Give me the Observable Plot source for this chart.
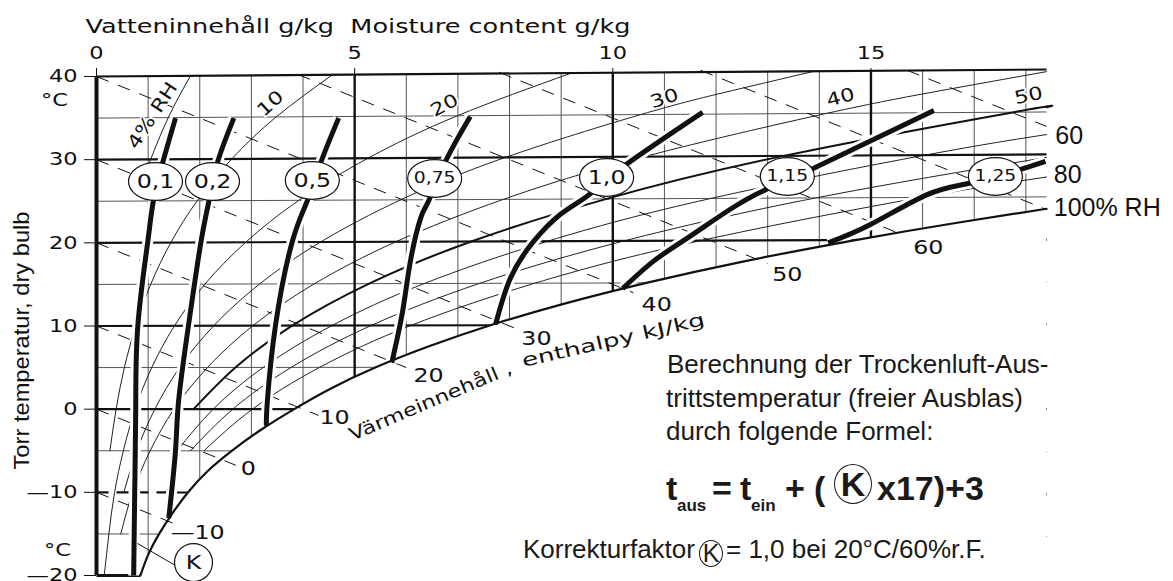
<!DOCTYPE html>
<html>
<head>
<meta charset="utf-8">
<script src="https://cdn.jsdelivr.net/npm/d3@7"></script>
<script src="https://cdn.jsdelivr.net/npm/@observablehq/plot@0.6"></script>
<style>
  html, body { margin: 0; padding: 0; background: #fff; }
  #wrap { position: relative; width: 1173px; height: 581px; overflow: hidden; background:#fff; }
  .note { position: absolute; white-space: nowrap; font-family: "Liberation Sans", Arial, sans-serif; color: #1a1a1a; line-height: 1; }
  .kc { position: absolute; border: 1.4px solid #1a1a1a; border-radius: 50%; box-sizing: border-box;
        display: flex; align-items: center; justify-content: center;
        font-family: "Liberation Sans", Arial, sans-serif; color: #1a1a1a; line-height: 1; }
</style>
</head>
<body>
<div id="wrap"></div>
<script>
// ---------------- values ----------------
const TILT = 0.00114;   // isotherms rise slightly towards the right
const X_MAX = 18.4;     // right edge of the diagram, g/kg

const moistureTicks = [0, 5, 10, 15];
const tempTicks = [-20, -10, 0, 10, 20, 30, 40];
const gridMoisture = [1,2,3,4,5,6,7,8,9,10,11,12,13,14,15,16,17,18];
const isotherms = [-20,-15,-10,-5,0,5,10,15,20,25,30,35,40];

// saturation curve, 100 % RH
const satT = [-20,-17.5,-15,-12.5,-10,-7.5,-5,-2.5,0,2.5,5,7.5,10,12.5,15,17.5,20,22,23.6];
const satX = [0.85,1.00,1.21,1.47,1.77,2.14,2.62,3.18,3.83,4.55,5.41,6.44,7.63,9.03,10.65,12.52,14.70,16.67,18.40];

// relative humidity curves
const rh4T  = [28,30,35,40];
const rh4X  = [0.93,1.05,1.39,1.82];
const rh10T = [-5,0,5,10,15,20,25,30,35,40];
const rh10X = [0.26,0.38,0.54,0.76,1.05,1.44,1.95,2.62,3.48,4.57];
const rh20T = [-20,-15,-10,-5,0,5,10,15,20,25,30,35,40];
const rh20X = [0.15,0.24,0.35,0.52,0.75,1.07,1.51,2.10,2.89,3.92,5.26,6.99,9.20];
const rh30T = [-10,-5,0,5,10,15,20,25,30,35,37.5,40];
const rh30X = [0.53,0.78,1.13,1.61,2.27,3.16,4.34,5.89,7.92,10.54,12.12,13.90];
const rh40T = [-15,-10,-5,0,5,10,15,20,25,30,35,37.5,39.75];
const rh40X = [0.47,0.70,1.04,1.50,2.15,3.03,4.22,5.80,7.88,10.61,14.14,16.26,18.40];
const rh50T = [0,5,10,15,20,25,30,35,35.55];
const rh50X = [1.88,2.69,3.79,5.28,7.26,9.88,13.31,17.77,18.40];
const rh60T = [-5,0,5,10,15,20,25,30,32.34];
const rh60X = [1.56,2.26,3.23,4.56,6.35,8.74,11.90,16.05,18.40];
const rh70T = [-5,0,5,10,15,20,25,29.65];
const rh70X = [1.82,2.64,3.77,5.32,7.42,10.22,13.93,18.40];
const rh80T = [-5,0,5,10,15,20,25,27.34];
const rh80X = [2.08,3.02,4.32,6.09,8.49,11.70,15.97,18.40];

// enthalpy lines (dashed), kJ/kg
const enthH      = [-10,0,10,20,30,40,50,60,70,80];
const enthStartX = [0,0,0,0,0,0,3.9,7.8,11.7,15.7];
const enthEndX   = [1.63,2.70,4.30,6.00,8.15,10.40,13.00,15.60,18.40,18.40];
const ENTH_DROP  = 2.5;  // °C per g/kg along an isenthalp
const enthLabels = ["—10","0","10","20","30","40","50","60"];
const enthLabelX = [1.96,2.94,4.61,6.43,8.52,10.85,13.38,16.11];
const enthLabelT = [-14.83,-7.13,-1.0,4.05,8.5,12.58,16.19,19.44];

// correction factor K curves
const k01X = [0.72,0.74,0.76,0.80,0.99,1.10,1.28,1.53];
const k01T = [-20,-10,0,10,20,25,29.6,35];
const k02X = [1.40,1.53,1.59,1.78,2.02,2.17,2.34,2.66];
const k02T = [-13.1,-5,1,10,20,24.8,29.6,35];
const k05X = [3.29,3.31,3.47,3.79,4.08,4.34,4.69];
const k05T = [-2,1,10.2,20.1,25,29.6,35];
const k075X = [5.72,5.93,6.08,6.28,6.43,6.76,7.24];
const k075T = [5.6,11.8,17.8,23,25,29.8,35.2];
const k10X = [7.73,8.02,8.47,9.0,9.52,10.21,11.74];
const k10T = [10.2,15.8,20.2,23.5,25.7,29.2,35.7];
const k115X = [10.19,10.79,11.45,12.29,12.93,13.9,16.22];
const k115T = [14.5,17.8,20.6,24.1,26.3,29.0,35.9];
const k125X = [14.17,14.99,16.09,16.93,17.93,18.38];
const k125T = [20.0,22.2,25.8,27.2,28.9,29.8];
const kNames  = ["0,1","0,2","0,5","0,75","1,0","1,15","1,25"];
const kLabelX = [1.143,2.247,4.18,6.55,9.88,13.38,17.41];
const kLabelT = [27.37,27.37,27.5,27.74,27.86,27.98,27.98];

// RH labels
const rhTopLabels = ["4% RH","10","20","30","40","50"];
const rhTopX      = [1.085,3.37,6.74,11.0,14.41,18.05];
const rhTopT      = [35.31,36.75,36.51,37.35,37.47,37.71];
const rhTopAngle  = [-57,-42,-28,-18,-15,-12];
const rhSideLabels = ["60","80","100% RH"];
const rhSideX      = [18.57,18.54,18.54];
const rhSideT      = [32.9,28.1,24.13];

const titleText = "Vatteninnehåll g/kg\u00a0 Moisture content g/kg";
const yTitle = "Torr temperatur, dry bulb";
// enthalpy caption, written in two pieces that follow the saturation curve
const enthTitle = ["Värmeinnehåll ,", "enthalpy kJ/kg"];
const enthTitleX = [6.47, 10.01];
const enthTitleT = [0.92, 8.26];
const enthTitleAngle = [-23, -13];
const enthTitleLen = [175, 187];

// text block on the right
const noteLines = ["Berechnung der Trockenluft-Aus-", "trittstemperatur (freier Ausblas)", "durch folgende Formel:"];
const noteLeft = [667, 666, 666];
const noteBase = [373, 407, 440];
const formulaText = ["t","aus","=","t","ein","+","(","x17)+3"];
const formulaLeft = [666,677,712,740,751,785,814,877];
const formulaBase = [500,511,500,500,511,500,500,500];
const formulaSize = [34,17,34,34,17,34,34,34];
const lastLine = ["Korrekturfaktor", "= 1,0 bei 20°C/60%r.F."];
const lastLeft = [523, 726];
const lastBase = 558;

// ---------------- build rows ----------------
const tilt = d => d.T * (1 + TILT * d.x);
const zipRows = (sets, key) => sets.flatMap(([id, xs, ts]) => xs.map((x, i) => ({[key]: id, x, T: ts[i]})));

const satRows = satX.map((x, i) => ({x, T: satT[i]}));
const rhRows = zipRows([[4,rh4X,rh4T],[10,rh10X,rh10T],[20,rh20X,rh20T],[30,rh30X,rh30T],[40,rh40X,rh40T],
                        [50,rh50X,rh50T],[60,rh60X,rh60T],[70,rh70X,rh70T],[80,rh80X,rh80T]], "rh");
const kRows = zipRows([["0,1",k01X,k01T],["0,2",k02X,k02T],["0,5",k05X,k05T],["0,75",k075X,k075T],
                       ["1,0",k10X,k10T],["1,15",k115X,k115T],["1,25",k125X,k125T]], "k");

const vLines = gridMoisture.map(v => ({x: v, y1: -21, y2: 40 * (1 + TILT * v), major: v % 5 === 0}));
const isoRows = isotherms.map(t => ({t, x1: 0, y1: t, x2: X_MAX, y2: t * (1 + TILT * X_MAX)}));
const isoThin = isoRows.filter(d => d.t % 10 !== 0);
const isoThick = isoRows.filter(d => d.t % 10 === 0 && d.t !== -10 && d.t !== -20);
const isoDash = isoRows.filter(d => d.t === -10);
const isoBottom = isoRows.filter(d => d.t === -20).map(d => ({...d, x2: satX[0], y2: -20}));

const enthRows = enthH.map((h, i) => ({h, x1: enthStartX[i], y1: h - ENTH_DROP * enthStartX[i], x2: enthEndX[i], y2: h - ENTH_DROP * enthEndX[i]}));
const enthLabelRows = enthLabels.map((s, i) => ({s, x: enthLabelX[i], T: enthLabelT[i]}));
const enthTitleRows = enthTitle.map((s, i) => ({s, x: enthTitleX[i], T: enthTitleT[i], a: enthTitleAngle[i]}));
const kLabelRows = kNames.map((s, i) => ({s, x: kLabelX[i], T: kLabelT[i], big: !["0,75","1,15","1,25"].includes(s)}));
const rhTopRows = rhTopLabels.map((s, i) => ({s, x: rhTopX[i], T: rhTopT[i], a: rhTopAngle[i]}));
const rhSideRows = rhSideLabels.map((s, i) => ({s, x: rhSideX[i], T: rhSideT[i]}));

const ellipse = ratio => ({
  draw(ctx, size) {
    const rx = Math.sqrt(size / Math.PI), ry = rx * ratio, k = 0.5523;
    ctx.moveTo(rx, 0);
    ctx.bezierCurveTo(rx, ry * k, rx * k, ry, 0, ry);
    ctx.bezierCurveTo(-rx * k, ry, -rx, ry * k, -rx, 0);
    ctx.bezierCurveTo(-rx, -ry * k, -rx * k, -ry, 0, -ry);
    ctx.bezierCurveTo(rx * k, -ry, rx, -ry * k, rx, 0);
    ctx.closePath();
  }
});

const INK = "#111";
const GRID = "#555";

const chart = Plot.plot({
  width: 1173, height: 581,
  marginTop: 76, marginRight: 127, marginBottom: 6, marginLeft: 96,
  x: {domain: [0, X_MAX], axis: "top", ticks: moistureTicks, tickSize: 9, tickPadding: 9, label: null, tickFormat: d => String(d)},
  y: {domain: [-20, 40], ticks: tempTicks, tickSize: 12, tickPadding: 7, label: null, tickFormat: d => d < 0 ? "—" + (-d) : String(d)},
  style: {fontFamily: "DejaVu Sans", fontSize: "18px", color: INK, background: "#fff", overflow: "visible"},
  marks: [
    // thin grid
    Plot.ruleX(vLines.filter(d => !d.major), {x: "x", y1: "y1", y2: "y2", stroke: GRID, strokeWidth: 1}),
    Plot.link(isoThin, {x1: "x1", y1: "y1", x2: "x2", y2: "y2", stroke: GRID, strokeWidth: 1}),
    // RH curves
    Plot.line(rhRows.filter(d => d.rh !== 50), {x: "x", y: tilt, z: "rh", curve: "natural", stroke: "#222", strokeWidth: 1}),
    Plot.line(rhRows.filter(d => d.rh === 50), {x: "x", y: tilt, curve: "natural", stroke: INK, strokeWidth: 2}),
    // heavy grid
    Plot.ruleX(vLines.filter(d => d.major), {x: "x", y1: "y1", y2: "y2", stroke: INK, strokeWidth: 2.4}),
    Plot.link(isoThick, {x1: "x1", y1: "y1", x2: "x2", y2: "y2", stroke: INK, strokeWidth: 2.2}),
    Plot.link(isoDash, {x1: "x1", y1: "y1", x2: "x2", y2: "y2", stroke: INK, strokeWidth: 2.2, strokeDasharray: "12,8"}),
    Plot.link(isoBottom, {x1: "x1", y1: "y1", x2: "x2", y2: "y2", stroke: INK, strokeWidth: 3}),
    // white out everything below the saturation curve
    Plot.areaY(satRows, {x: "x", y1: -30, y2: tilt, curve: "natural", fill: "#fff"}),
    // enthalpy lines
    Plot.link(enthRows, {x1: "x1", y1: "y1", x2: "x2", y2: "y2", stroke: INK, strokeWidth: 1, strokeDasharray: "13,10"}),
    // halo under the K curves
    Plot.line(kRows, {x: "x", y: "T", z: "k", curve: "natural", stroke: "#fff", strokeWidth: 11, strokeLinecap: "butt"}),
    // saturation curve and left axis
    Plot.line(satRows, {x: "x", y: tilt, curve: "natural", stroke: INK, strokeWidth: 2.2}),
    Plot.ruleX([0], {y1: -20, y2: 40, stroke: INK, strokeWidth: 4}),
    // K curves
    Plot.line(kRows, {x: "x", y: "T", z: "k", curve: "natural", stroke: INK, strokeWidth: 5, strokeLinecap: "butt"}),
    Plot.dot(kLabelRows, {x: "x", y: "T", r: 27, symbol: ellipse(0.7), fill: "#fff", stroke: INK, strokeWidth: 1.2}),
    Plot.text(kLabelRows.filter(d => d.big), {x: "x", y: "T", text: "s", fontSize: 19, fill: INK}),
    Plot.text(kLabelRows.filter(d => !d.big), {x: "x", y: "T", text: "s", fontSize: 15, fill: INK}),
    // K marker at the bottom
    Plot.link([{x1: 0.794, y1: -16.15, x2: 1.53, y2: -18.8}], {x1: "x1", y1: "y1", x2: "x2", y2: "y2", stroke: INK, strokeWidth: 1}),
    Plot.dot([{x: 1.879, T: -18.44}], {x: "x", y: "T", r: 19, fill: "#fff", stroke: INK, strokeWidth: 1.2}),
    Plot.text([{x: 1.879, T: -18.44}], {x: "x", y: "T", text: () => "K", fontSize: 19, fill: INK}),
    // enthalpy labels
    Plot.text(enthLabelRows, {x: "x", y: "T", text: "s", fontSize: 19, fill: INK}),
    Plot.text(enthTitleRows, {x: "x", y: "T", text: "s", rotate: "a", fontSize: 18, fill: INK}),
    // RH labels
    Plot.text(rhTopRows, {x: "x", y: "T", text: "s", rotate: "a", fontSize: 18, fill: INK, stroke: "#fff", strokeWidth: 3, paintOrder: "stroke"}),
    Plot.text(rhSideRows, {x: "x", y: "T", text: "s", textAnchor: "start", fontSize: 25, fontFamily: "Liberation Sans", fill: INK}),
    // axis decorations
    Plot.text([{x: -0.813, T: 37.11}, {x: -0.755, T: -17.0}], {x: "x", y: "T", text: () => "°C", fontSize: 18, fill: INK}),
    Plot.text([{x: -0.213, T: 46.0}], {x: "x", y: "T", text: () => titleText, textAnchor: "start", fontSize: 19, fill: INK}),
    Plot.text([{x: -1.453, T: 8.26}], {x: "x", y: "T", text: () => yTitle, rotate: -90, fontSize: 22, fontFamily: "Liberation Sans Narrow, Liberation Sans", fill: INK})
  ]
});

const wrap = document.getElementById("wrap");
wrap.appendChild(chart);

// stretch the geometric-looking labels to the wide proportions of the original lettering
for (const t of chart.querySelectorAll("text")) {
  const txt = t.textContent;
  const fam = getComputedStyle(t).fontFamily || "";
  let L = null;
  const ei = enthTitle.indexOf(txt);
  if (txt === titleText) L = 545;
  else if (ei >= 0) L = enthTitleLen[ei];
  else if (txt === yTitle) L = 258;
  else if (fam.includes("DejaVu")) L = t.getComputedTextLength() * 1.25;
  if (L) { t.setAttribute("textLength", L); t.setAttribute("lengthAdjust", "spacingAndGlyphs"); }
}

// right-hand text block (HTML over the chart)
function note(text, left, baseline, size, bold) {
  const d = document.createElement("div");
  d.className = "note";
  d.textContent = text;
  d.style.left = left + "px";
  d.style.top = (baseline - 0.8465 * size) + "px";
  d.style.fontSize = size + "px";
  if (bold) d.style.fontWeight = "bold";
  wrap.appendChild(d);
}
function kCircle(left, top, w, h, size, bold) {
  const d = document.createElement("div");
  d.className = "kc";
  d.textContent = "K";
  Object.assign(d.style, {left: left + "px", top: top + "px", width: w + "px", height: h + "px", fontSize: size + "px", fontWeight: bold ? "bold" : "normal"});
  wrap.appendChild(d);
}
noteLines.forEach((s, i) => note(s, noteLeft[i], noteBase[i], 26, false));
formulaText.forEach((s, i) => note(s, formulaLeft[i], formulaBase[i], formulaSize[i], true));
kCircle(834, 464, 38, 40, 34, true);
note(lastLine[0], lastLeft[0], lastBase, 26, false);
kCircle(699, 540, 24, 27, 25, false);
note(lastLine[1], lastLeft[1], lastBase, 26, false);
</script>
</body>
</html>
